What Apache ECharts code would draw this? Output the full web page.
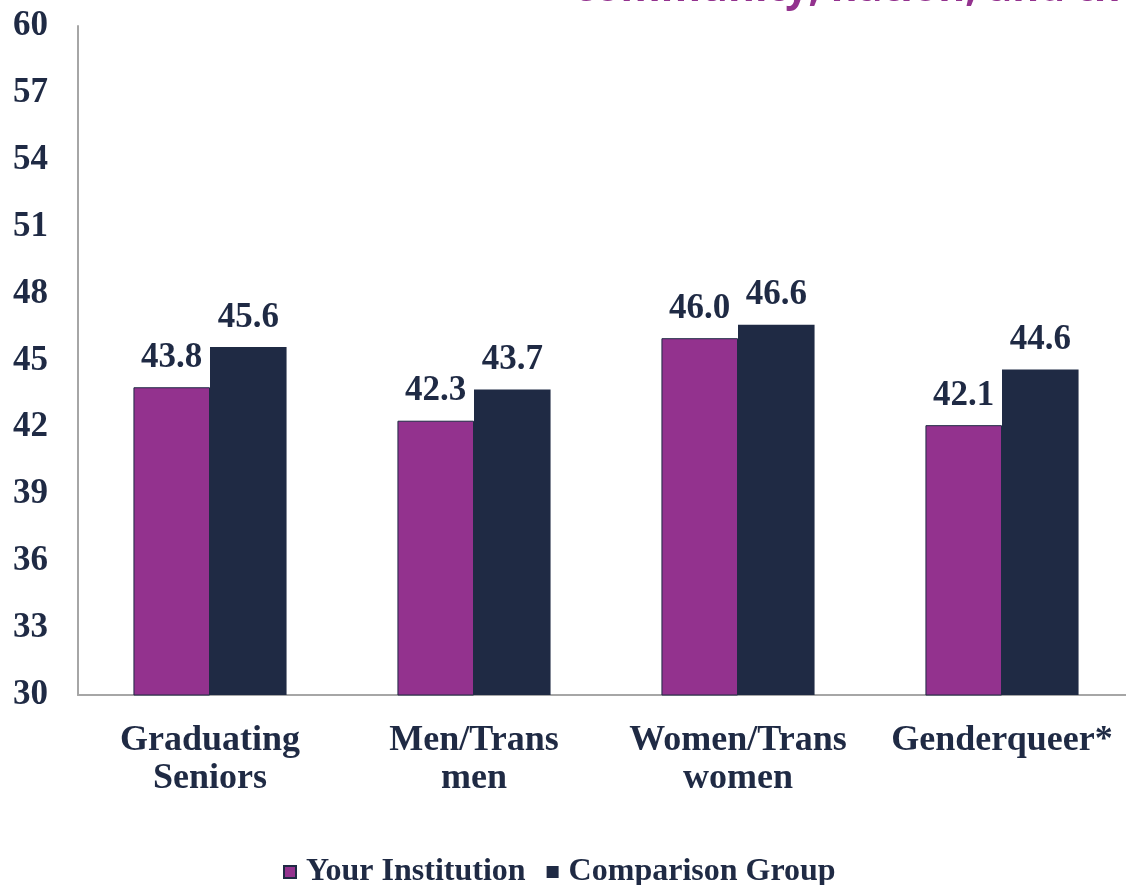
<!DOCTYPE html>
<html>
<head>
<meta charset="utf-8">
<script src="https://cdn.jsdelivr.net/npm/echarts@6/dist/echarts.min.js"></script>
<style>
  html, body { margin: 0; padding: 0; background: #fff; overflow: hidden; }
  #main { width: 1140px; height: 885px; }
</style>
</head>
<body>
<div id="main"></div>
<script>
var categories = ['Graduating\nSeniors', 'Men/Trans\nmen', 'Women/Trans\nwomen', 'Genderqueer*'];
var yourInstitution = [43.8, 42.3, 46.0, 42.1];
var comparisonGroup = [45.6, 43.7, 46.6, 44.6];
var seriesNames = ['Your Institution', 'Comparison Group'];
var titleText = 'community, nation, and the world';

var navy = '#1F2A44';
var purple = '#93328E';
var serif = '"Liberation Serif", "DejaVu Serif", serif';

var chart = echarts.init(document.getElementById('main'));

var valueLabel = {
    show: true,
    position: 'top',
    distance: 12,
    color: navy,
    fontFamily: serif,
    fontWeight: 'bold',
    fontSize: 35,
    formatter: function (p) {
        return p.value.toFixed(1);
    }
};

chart.setOption({
    backgroundColor: '#fff',
    animation: false,
    graphic: [{
        type: 'text',
        left: 574,
        top: -31,
        style: {
            text: titleText,
            fill: purple,
            font: 'bold 41px "Open Sans", sans-serif'
        }
    }],
    legend: {
        top: 851,
        left: 278,
        itemWidth: 12,
        itemHeight: 12,
        itemGap: 21,
        icon: 'rect',
        textStyle: {
            color: navy,
            fontFamily: serif,
            fontWeight: 'bold',
            fontSize: 32,
            padding: [0, 0, 0, 5]
        },
        data: seriesNames
    },
    grid: {
        left: 78,
        right: 6,
        top: 26,
        bottom: 190,
        containLabel: false
    },
    xAxis: {
        type: 'category',
        data: categories,
        axisLine: { lineStyle: { color: '#a6a6a6', width: 2 } },
        axisTick: { show: false },
        axisLabel: {
            color: navy,
            fontFamily: serif,
            fontWeight: 'bold',
            fontSize: 36,
            lineHeight: 38,
            margin: 27,
            interval: 0
        }
    },
    yAxis: {
        type: 'value',
        min: 30,
        max: 60,
        interval: 3,
        axisLine: { show: true, lineStyle: { color: '#a6a6a6', width: 2 } },
        axisTick: { show: false },
        splitLine: { show: false },
        axisLabel: {
            color: navy,
            fontFamily: serif,
            fontWeight: 'bold',
            fontSize: 35,
            margin: 30
        }
    },
    series: [{
        name: seriesNames[0],
        type: 'bar',
        data: yourInstitution,
        barGap: '0%',
        barCategoryGap: '42%',
        itemStyle: { color: purple, borderColor: navy, borderWidth: 1 },
        label: valueLabel
    }, {
        name: seriesNames[1],
        type: 'bar',
        data: comparisonGroup,
        itemStyle: { color: navy },
        label: valueLabel
    }]
});
</script>
</body>
</html>
